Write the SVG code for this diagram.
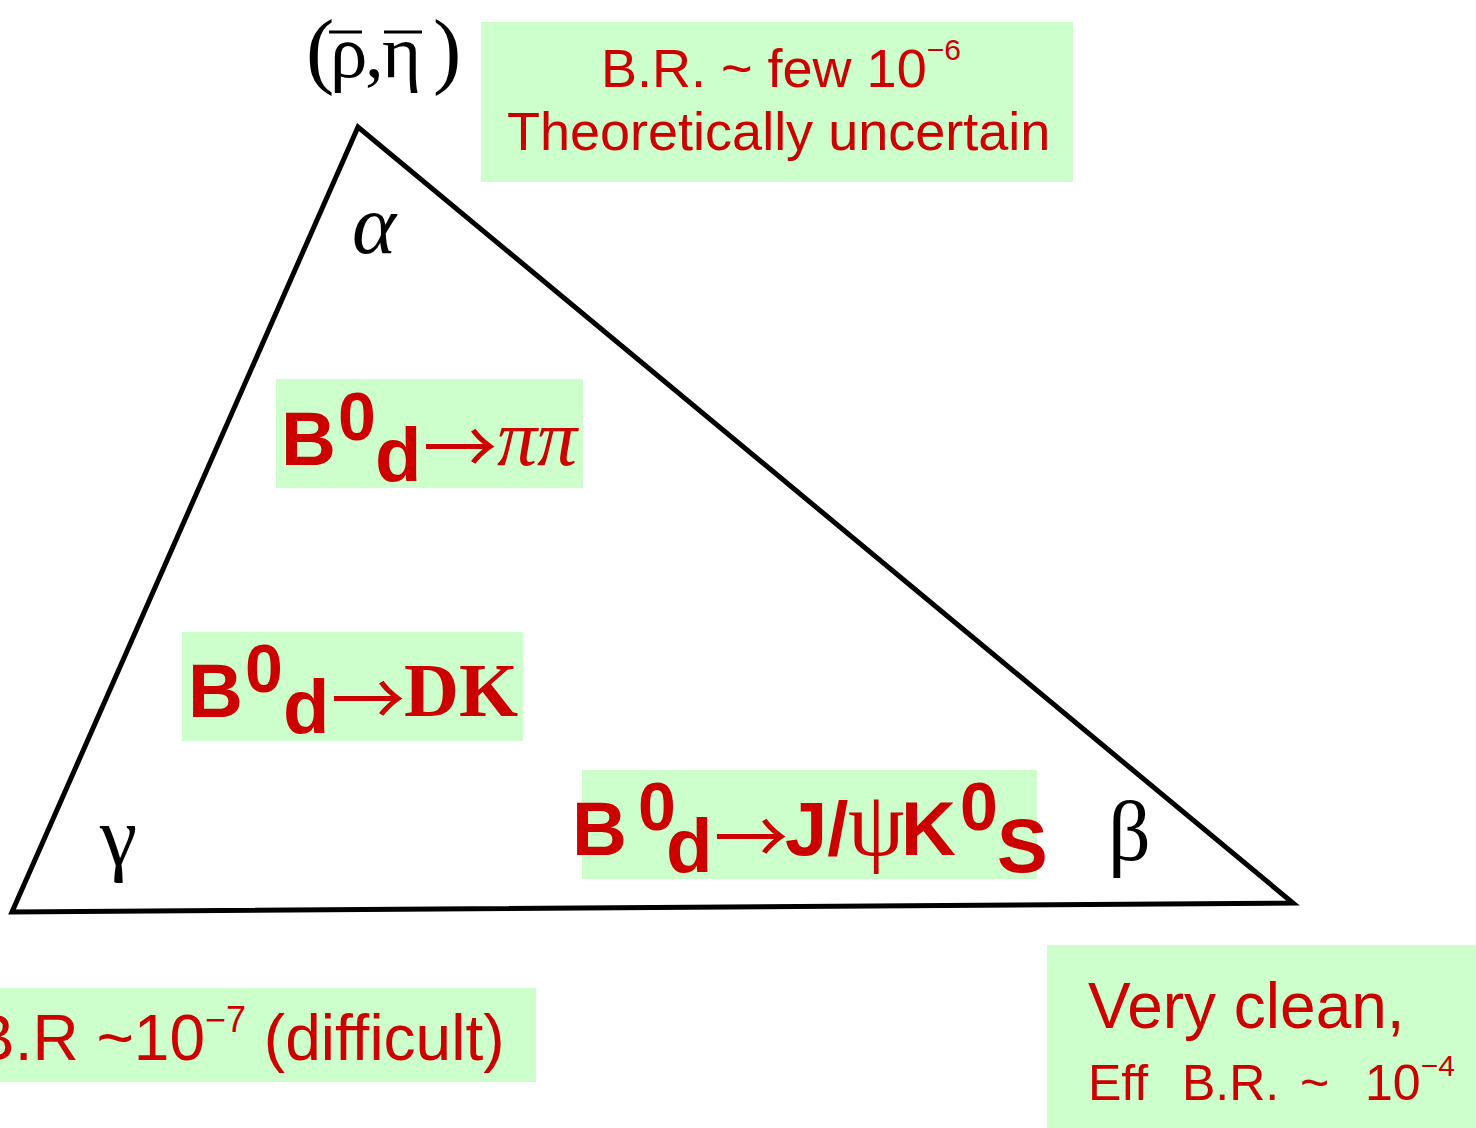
<svg xmlns="http://www.w3.org/2000/svg" width="1476" height="1128" viewBox="0 0 1476 1128">
<style>
.box{fill:#CCFFCC}
.red{fill:#CC0000;font-family:"Liberation Sans",Arial,sans-serif}
.bold{font-weight:bold}
.serif{font-family:"Liberation Serif","Times New Roman",serif}
.arrow{font-family:"Noto Sans CJK JP","Noto Sans CJK SC",sans-serif;font-weight:normal}
.greek{font-family:"Liberation Serif","Times New Roman",serif;fill:#000}
.tri{fill:none;stroke:#000;stroke-width:5;stroke-linejoin:miter}
</style>
<rect width="1476" height="1128" fill="#fff"/>
<g id="connectors">
<polygon class="tri" points="358,127 12,912 1293,903"/>
</g>
<g id="vertex-label">
<text class="greek" font-size="75"><tspan x="306" y="78" font-size="85">(</tspan><tspan x="330" y="77">ρ</tspan><tspan x="365" y="77">,</tspan><tspan x="382" y="77">η</tspan><tspan x="433" y="78" font-size="85">)</tspan></text>
<line x1="329" y1="32" x2="362" y2="32" stroke="#000" stroke-width="3"/>
<line x1="384" y1="32" x2="422" y2="32" stroke="#000" stroke-width="3"/>
</g>
<g id="alpha"><text class="greek" x="352" y="253" font-size="84" font-style="italic">α</text></g>
<g id="gamma"><text class="greek" x="100" y="865" font-size="84">γ</text></g>
<g id="beta"><text class="greek" x="1108" y="860" font-size="84">β</text></g>
<g id="box-alpha-note">
<rect class="box" x="481" y="22" width="592" height="160"/>
<text class="red" x="601" y="87" font-size="54">B.R. ~ few 10<tspan font-size="30" dy="-27">−6</tspan></text>
<text class="red" x="507" y="150" font-size="54">Theoretically uncertain</text>
</g>
<g id="box-pipi">
<rect class="box" x="276" y="379" width="307" height="109"/>
<text class="red bold" font-size="76"><tspan x="281" y="465">B</tspan><tspan x="338" y="440" font-size="68">0</tspan><tspan x="375" y="481">d</tspan></text>
<text class="red arrow" x="423" y="474" font-size="74">→</text>
<text class="red serif" x="497" y="465" font-size="80" font-style="italic">ππ</text>
</g>
<g id="box-dk">
<rect class="box" x="182" y="632" width="341" height="109"/>
<text class="red bold" font-size="76"><tspan x="188" y="717">B</tspan><tspan x="245" y="692" font-size="68">0</tspan><tspan x="283" y="733">d</tspan></text>
<text class="red arrow" x="331" y="726" font-size="74">→</text>
<text class="red serif bold" x="404" y="716" font-size="76">DK</text>
</g>
<g id="box-jpsik">
<rect class="box" x="582" y="770" width="455" height="109"/>
<text class="red bold" font-size="76"><tspan x="572" y="855">B</tspan><tspan x="638" y="830" font-size="68">0</tspan><tspan x="666" y="872">d</tspan></text>
<text class="red arrow" x="714" y="864" font-size="74">→</text>
<text class="red bold" font-size="76"><tspan x="785" y="855">J/</tspan></text>
<text class="red serif" x="848" y="855" font-size="90">ψ</text>
<text class="red bold" font-size="76"><tspan x="901" y="855">K</tspan><tspan x="960" y="830" font-size="68">0</tspan><tspan x="997" y="872">S</tspan></text>
</g>
<g id="box-gamma-note">
<rect class="box" x="0" y="988" width="536" height="94"/>
<text class="red" x="-28" y="1060" font-size="64">B.R ~10<tspan font-size="36" dy="-28">−7</tspan><tspan dy="28"> (difficult)</tspan></text>
</g>
<g id="box-beta-note">
<rect class="box" x="1047" y="945" width="429" height="183"/>
<text class="red" x="1088" y="1028" font-size="64">Very clean,</text>
<text class="red" font-size="50"><tspan x="1088" y="1100">Eff</tspan><tspan x="1182">B.R.</tspan><tspan x="1300">~</tspan><tspan x="1365">10</tspan><tspan font-size="30" dy="-24">−4</tspan></text>
</g>
</svg>
